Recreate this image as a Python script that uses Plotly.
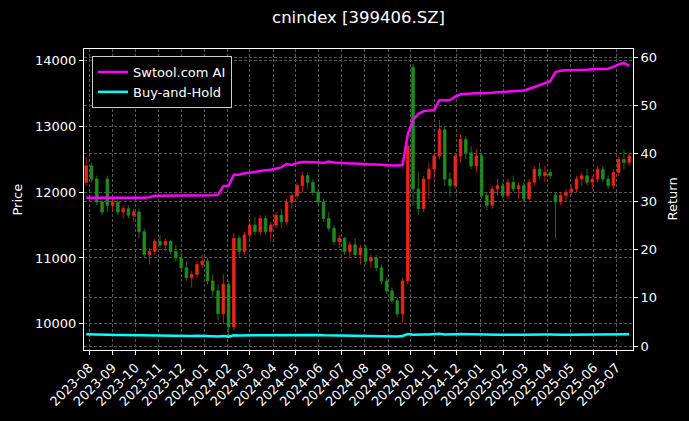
import pandas as pd
import plotly.graph_objects as go

# weekly bars (Friday dates)
dates = pd.date_range("2023-07-28", periods=104, freq="7D")

opens = [12150, 12400, 12200, 11850, 12200, 11800, 11850, 11700, 11750, 11650,
         11700, 11400, 11050, 11100, 11250, 11200, 11250, 11100, 11000, 10850,
         10700, 10750, 10900, 10950, 10650, 10500, 10150, 10600, 9950, 11300,
         11100, 11350, 11500, 11400, 11600, 11400, 11500, 11650, 11550, 11850,
         11950, 12100, 12250, 12150, 12000, 11850, 11600, 11450, 11250, 11300,
         11100, 11200, 11050, 11150, 10950, 11000, 10850, 10650, 10500, 10350,
         10150, 10650, 13900, 12050, 11750, 12200, 12350, 12550, 12950, 12200,
         12100, 12550, 12800, 12600, 12400, 12550, 11950, 11800, 12050, 12100,
         11950, 12150, 12050, 12100, 11900, 12150, 12350, 12250, 12300, 11950,
         11850, 11950, 12000, 12050, 12200, 12250, 12150, 12200, 12350, 12200,
         12100, 12300, 12500, 12450]
highs = [12530, 12450, 12250, 11950, 12250, 11900, 11900, 11800, 11800, 11750,
         11750, 11450, 11150, 11300, 11350, 11300, 11280, 11200, 11100, 10950,
         10800, 10950, 11050, 11000, 10750, 10600, 10750, 10650, 11380, 11350,
         11400, 11550, 11620, 11650, 11650, 11550, 11700, 11750, 11900, 12000,
         12150, 12300, 12300, 12200, 12050, 11900, 11700, 11500, 11350, 11320,
         11250, 11300, 11200, 11200, 11050, 11050, 10900, 10700, 10550, 10400,
         10700, 12750, 13950, 12300, 12250, 12450, 12600, 13100, 13000, 12300,
         12600, 12880, 12850, 12700, 12650, 12600, 12000, 12100, 12200, 12150,
         12200, 12250, 12150, 12150, 12200, 12400, 12450, 12400, 12350, 12000,
         12000, 12050, 12100, 12250, 12300, 12350, 12250, 12400, 12400, 12250,
         12350, 12550, 12650, 12600]
lows = [12100, 12150, 11800, 11650, 11700, 11700, 11650, 11600, 11600, 11550,
        11300, 11000, 10900, 11050, 11150, 11100, 11050, 10950, 10800, 10650,
        10550, 10700, 10850, 10600, 10400, 10050, 10000, 9810, 9900, 11000,
        11050, 11250, 11350, 11350, 11350, 11250, 11450, 11450, 11500, 11750,
        11900, 12000, 12050, 11950, 11800, 11550, 11400, 11200, 11150, 11050,
        11000, 11000, 10900, 10900, 10850, 10800, 10600, 10450, 10300, 10100,
        10020, 10600, 11800, 11650, 11700, 11900, 12200, 12500, 12100, 11930,
        12050, 12450, 12500, 12350, 12300, 11900, 11730, 11750, 11950, 11900,
        11900, 12000, 11900, 11850, 11880, 12100, 12200, 12150, 12200, 11300,
        11800, 11850, 11950, 12000, 12100, 12100, 12050, 12150, 12150, 12050,
        12050, 12250, 12350, 12400]
closes = [12400, 12200, 11850, 11700, 11800, 11850, 11700, 11750, 11650, 11700,
          11400, 11050, 11100, 11250, 11200, 11250, 11100, 11000, 10850, 10700,
          10750, 10900, 10950, 10650, 10500, 10150, 10600, 9950, 11300, 11100,
          11350, 11500, 11400, 11600, 11400, 11500, 11650, 11550, 11850, 11950,
          12100, 12250, 12150, 12000, 11850, 11600, 11450, 11250, 11300, 11100,
          11200, 11050, 11150, 10950, 11000, 10850, 10650, 10500, 10350, 10150,
          10650, 12700, 12050, 11750, 12200, 12350, 12550, 12950, 12200, 12100,
          12550, 12800, 12600, 12400, 12550, 11950, 11800, 12050, 12100, 11950,
          12150, 12050, 12100, 11900, 12150, 12350, 12250, 12300, 12250, 11850,
          11950, 12000, 12050, 12200, 12250, 12150, 12200, 12350, 12200, 12100,
          12300, 12500, 12450, 12550]

ai_return = [30.8, 30.8, 30.7, 30.7, 30.7, 30.8, 30.8, 30.8, 30.8, 30.8,
             30.8, 30.8, 30.9, 31.2, 31.2, 31.2, 31.2, 31.2, 31.3, 31.3,
             31.3, 31.3, 31.3, 31.3, 31.3, 31.4, 33.2, 33.3, 35.6, 35.6,
             35.9, 36.0, 36.2, 36.3, 36.5, 36.6, 36.9, 37.1, 37.8, 37.6,
             38.0, 38.2, 38.2, 38.2, 38.1, 38.0, 38.3, 38.1, 38.0, 38.0,
             37.9, 37.9, 37.8, 37.8, 37.7, 37.7, 37.6, 37.6, 37.5, 37.5,
             37.6, 44.0, 47.0, 48.2, 48.8, 48.9, 49.0, 51.1, 51.0, 51.1,
             51.8, 52.3, 52.4, 52.4, 52.5, 52.5, 52.5, 52.6, 52.7, 52.8,
             52.9, 53.0, 53.1, 53.1, 53.4, 53.8, 54.1, 54.5, 55.0, 56.9,
             57.2, 57.3, 57.3, 57.4, 57.4, 57.4, 57.5, 57.5, 57.5, 57.6,
             58.0, 58.5, 58.8, 58.2]
bh_return = [2.42, 2.38, 2.31, 2.28, 2.30, 2.31, 2.28, 2.29, 2.27, 2.28,
             2.22, 2.16, 2.17, 2.20, 2.19, 2.20, 2.17, 2.15, 2.12, 2.09,
             2.10, 2.13, 2.14, 2.08, 2.05, 1.98, 2.07, 1.94, 2.21, 2.17,
             2.22, 2.24, 2.22, 2.26, 2.22, 2.24, 2.27, 2.25, 2.31, 2.33,
             2.36, 2.39, 2.37, 2.34, 2.31, 2.26, 2.23, 2.20, 2.21, 2.17,
             2.19, 2.16, 2.18, 2.14, 2.15, 2.12, 2.08, 2.05, 2.02, 1.98,
             2.08, 2.48, 2.35, 2.29, 2.38, 2.41, 2.45, 2.53, 2.38, 2.36,
             2.45, 2.50, 2.46, 2.42, 2.45, 2.33, 2.30, 2.35, 2.36, 2.33,
             2.37, 2.35, 2.36, 2.32, 2.37, 2.41, 2.39, 2.40, 2.39, 2.31,
             2.33, 2.34, 2.35, 2.38, 2.39, 2.37, 2.38, 2.41, 2.38, 2.36,
             2.40, 2.44, 2.43, 2.45]

RED = "#e8261a"
GREEN = "#1f8c1f"
FONT = "DejaVu Sans"
GRID = "#555555"

# plot area in pixels (matches the reference frame)
L, R, T, B = 84, 56, 49, 71
W, H = 689, 421
plot_w, plot_h = W - L - R, H - T - B

fig = go.Figure()

fig.add_trace(go.Candlestick(
    x=dates, open=opens, high=highs, low=lows, close=closes,
    increasing=dict(line=dict(color=RED, width=0.8), fillcolor=RED),
    decreasing=dict(line=dict(color=GREEN, width=0.8), fillcolor=GREEN),
    whiskerwidth=0, showlegend=False, hoverinfo="skip"))

fig.add_trace(go.Scatter(x=dates, y=ai_return, mode="lines", name="Swtool.com AI",
                         line=dict(color="#ff00ff", width=2.5), yaxis="y2"))
fig.add_trace(go.Scatter(x=dates, y=bh_return, mode="lines", name="Buy-and-Hold",
                         line=dict(color="#00ffff", width=2.5), yaxis="y2"))

axis_common = dict(showline=True, linecolor="white", linewidth=1, mirror=True,
                   ticks="outside", tickcolor="white", ticklen=4, automargin=False,
                   tickfont=dict(color="white", size=13, family=FONT),
                   showgrid=True, gridcolor=GRID, gridwidth=0.7, griddash="3px,2px",
                   zeroline=False)

def px_x(x):
    return (x - L) / plot_w

def px_y(y):
    return 1 - (y - T) / plot_h

fig.update_layout(
    width=W, height=H,
    paper_bgcolor="black", plot_bgcolor="black",
    margin=dict(l=L, r=R, t=T, b=B, autoexpand=False),
    font=dict(family=FONT, color="white", size=13),
    title=dict(text="cnindex [399406.SZ]", x=0.5, xref="paper", xanchor="center",
               y=1 - 17 / H, yref="container", yanchor="middle",
               font=dict(size=16.5, color="white", family=FONT)),
    xaxis=dict(type="date", range=["2023-07-25", "2025-07-23"], dtick="M1",
               tick0="2023-08-01", tickformat="%Y-%m", tickangle=-45,
               rangeslider=dict(visible=False), **axis_common),
    yaxis=dict(range=[9600, 14178], dtick=1000, tickformat="d", **axis_common),
    yaxis2=dict(range=[-0.83, 61.7], dtick=10, overlaying="y", side="right",
                **axis_common),
    legend=dict(x=px_x(92), y=px_y(56), xanchor="left", yanchor="top",
                bgcolor="black", bordercolor="#cccccc", borderwidth=1,
                tracegroupgap=0, itemwidth=30,
                font=dict(size=13, color="white", family=FONT)),
    annotations=[
        dict(text="Price", x=px_x(17), y=px_y(199.5), xref="paper", yref="paper",
             xanchor="center", yanchor="middle", showarrow=False, textangle=-90,
             font=dict(size=13, color="white", family=FONT)),
        dict(text="Return", x=px_x(672), y=px_y(199.5), xref="paper", yref="paper",
             xanchor="center", yanchor="middle", showarrow=False, textangle=-90,
             font=dict(size=13, color="white", family=FONT)),
    ],
)

# page body has a default margin; drop it so the figure sits at the window corner
fig.write_html("out.html", config={"displayModeBar": False},
               post_script="document.body.style.margin='0';document.body.style.background='black';")
